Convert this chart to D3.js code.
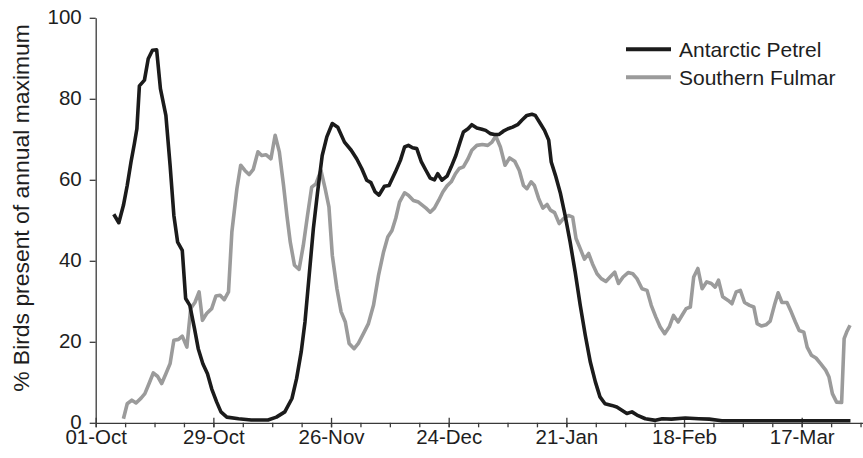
<!DOCTYPE html>
<html>
<head>
<meta charset="utf-8">
<script src="https://cdn.jsdelivr.net/npm/d3@7"></script>
<style>
  html, body { margin: 0; padding: 0; background: #fff; }
  svg { display: block; font-family: "Liberation Sans", Arial, sans-serif; }
</style>
</head>
<body>
<svg id="chart" width="863" height="458"></svg>
<script>
// Days counted from 01-Oct; values are % of birds present relative to the annual maximum.
const petrelDays = [4.3,5.5,6.6,7.5,8.4,9.2,9.8,10.4,11.6,12.5,13.5,14.5,15.4,16.7,17.7,18.6,19.5,20.6,21.4,22.4,23.5,24.4,25.5,26.6,27.6,28.8,29.8,31.2,34,37,41,43,45,46.7,47.8,48.9,49.8,50.8,51.8,52.8,53.9,55,56.3,57.6,59.2,60.8,62.1,63.3,64.5,65.5,66.5,67.4,68.7,69.8,71.3,72.5,73.5,74.4,75.4,76.4,77.5,78.6,79.6,80.6,81.4,82.4,83.6,84.6,85.7,86.7,87.5,88.6,89.5,90.7,91.9,92.8,93.9,94.9,96,97,98.1,99.2,100.4,101.4,102.6,103.8,104.6,105.8,106.8,107.8,108.4,109.4,110.6,111.7,112.9,114.1,115.3,116.5,117.7,118.9,120,121.2,122.8,124,125.2,126.4,127.6,128.8,130.8,133.2,134.8,137,140.3,143.5,146,149,179.6];
const petrelPct = [51.5,49.4,53.7,58.6,64.4,68.9,72.6,83.2,84.6,89.9,92.0,92.1,82.5,75.9,63.6,51.2,44.6,42.6,30.7,29.0,23.3,18.3,14.6,12.1,8.4,5.1,2.7,1.4,1.0,0.7,0.7,1.4,2.7,6,10.9,17.5,24.9,36.4,48,57,66,70.6,73.9,73,69.3,67.3,65.2,62.8,59.9,59.3,57,56.2,58.4,58.6,61.9,64.8,68.1,68.5,67.9,67.7,64.4,62.3,60.4,60,61.5,59.9,60.9,63.2,66,69.3,71.8,72.6,73.6,72.8,72.5,72.2,71.4,71.2,71.2,72,72.6,73,73.6,74.7,75.9,76.2,75.9,73.9,72.2,69.8,64.4,61.1,56.6,51.2,44.6,37.2,29,21.6,15,10.1,6.4,4.7,4.3,3.9,3.1,2.3,2.7,1.9,1.0,0.6,1.0,0.9,1.2,1.0,0.9,0.5,0.5];

const fulmarDays = [6.6,7.5,8.6,9.6,10.8,11.7,12.7,13.7,14.7,15.7,16.7,17.7,18.6,19.7,20.6,21.7,22.6,23.6,24.6,25.4,26.4,27.6,28.6,29.6,30.6,31.6,32.4,33.6,34.5,35.5,36.5,37.5,38.6,39.5,40.5,41.7,42.7,43.7,44.7,45.5,46.3,47.3,48.4,49.4,50.4,51.4,52.4,53.6,54.6,55.5,56.3,57.4,58.4,59.4,60.3,61.5,62.5,63.7,64.9,66.1,67.3,68.5,69.5,70.5,71.4,72.3,73.5,74.4,75.6,76.8,78.6,79.6,80.6,81.6,82.6,83.6,84.6,85.6,86.5,87.5,88.6,89.5,90.7,92,93.3,94.3,95.2,96.3,97.4,98.5,99.7,100.8,101.8,102.6,103.6,104.4,105.4,106.4,107.4,108.2,109.2,110.3,111.3,112.5,113.5,114.3,115.3,116.3,117.3,118.2,119.3,120.3,121.4,122.4,123.5,124.4,125.5,126.7,127.8,128.8,130,131.2,132.2,133.3,134.3,135.4,136.5,137.5,138.6,139.5,140.5,141.5,142.3,143.3,144.3,145.4,146.5,147.4,148.2,149.2,150.5,151.4,152.4,153.4,154.4,155.6,156.6,157.4,158.4,159.5,160.5,161.5,162.4,163.3,164.5,165.5,166.5,167.4,168.5,169.3,170.3,171.4,172.5,173.7,174.5,175.3,176.3,177.5,178.1,178.7,179.5];
const fulmarPct = [1,4.7,5.6,4.9,6.1,7.2,9.7,12.3,11.5,9.7,12.1,14.6,20.4,20.6,21.4,18.7,28.2,29.7,32.3,25.3,27,28.2,31.3,31.5,30.4,32.3,47.1,57.8,63.6,62.3,61.3,62.6,66.9,66,66.2,65.2,71,66.9,58.6,51.2,44.6,38.9,37.9,43.8,51.2,58.2,59,62.3,57.8,53.3,41.4,33.1,27.4,24.9,19.6,18.3,19.6,22,24.5,29,36.4,42.2,45.9,47.5,50.5,54.5,56.8,56.2,54.9,54.5,53,52,53,54.9,57,58.5,59.5,61.5,62.8,63.2,65.2,67.3,68.5,68.7,68.5,69.3,70.8,68.1,63.6,65.4,64.6,62.3,58.6,57.8,59.5,58.6,55.4,53,53.9,52.5,51.9,49.2,50.4,51.2,50.8,45.5,43,40.4,41.8,39.3,36.8,35.6,34.9,36,37.2,34.4,36,37.1,36.8,35.6,33.1,32.7,29,26.1,23.7,22,23.7,26.5,24.9,26.5,28.2,28.6,36,38.1,33.1,34.8,34.4,33.5,35.2,31.1,30.2,29.4,32.3,32.7,29.7,29,28.6,24.5,23.9,24.2,25.1,29,32.1,29.7,29.7,27.4,24.9,22.8,22.4,18.7,16.7,16,14.6,13,11.3,7.2,5.1,5,20.8,22.4,24.1];

const majorTickDays = [0,28,56,84,112,140,168];
const majorTickLabels = ["01-Oct","29-Oct","26-Nov","24-Dec","21-Jan","18-Feb","17-Mar"];
const minorTickDays = d3.range(0, 183, 7);
const yTicks = [0,20,40,60,80,100];

const seriesNames = ["Antarctic Petrel", "Southern Fulmar"];
const seriesColors = ["#1b1b1b", "#9b9b9b"];

const svg = d3.select("#chart");
const fontSize = 20.5;
const axisColor = "#3a3a3a";
const textColor = "#1e1e1e";

const x = d3.scaleLinear().domain([0, 168]).range([95.7, 801.7]);
const y = d3.scaleLinear().domain([0, 100]).range([422.8, 17.8]);
const xEnd = x(183);

// y axis
const yAxis = svg.append("g").attr("transform", `translate(${x(0)},0)`)
  .call(d3.axisLeft(y).tickValues(yTicks).tickSize(6).tickSizeOuter(0).tickPadding(8));
yAxis.select(".domain").attr("stroke", axisColor).attr("stroke-width", 1.3);
yAxis.selectAll(".tick line").attr("stroke", axisColor).attr("stroke-width", 1.3);
yAxis.selectAll(".tick text").attr("font-size", fontSize).attr("fill", textColor)
  .attr("font-family", "Liberation Sans, Arial, sans-serif")
  .attr("dy", "0.3em");

// x axis: weekly minor ticks
const xMinor = svg.append("g").attr("transform", `translate(0,${y(0)})`)
  .call(d3.axisBottom(x).tickValues(minorTickDays).tickSize(4.5).tickSizeOuter(0).tickFormat(""));
xMinor.select(".domain").attr("d", `M${x(0)},0.5H${xEnd}`).attr("stroke", axisColor).attr("stroke-width", 1.3);
xMinor.selectAll(".tick line").attr("stroke", axisColor).attr("stroke-width", 1.3);

// x axis: labelled 4-week ticks crossing the axis line
const xMajor = svg.append("g").attr("transform", `translate(0,${y(0)})`)
  .call(d3.axisBottom(x).tickValues(majorTickDays).tickSize(4.5).tickSizeOuter(0)
    .tickFormat((d, i) => majorTickLabels[i]).tickPadding(2));
xMajor.select(".domain").remove();
xMajor.selectAll(".tick line").attr("y1", -5).attr("stroke", axisColor).attr("stroke-width", 1.3);
xMajor.selectAll(".tick text").attr("font-size", fontSize).attr("fill", textColor)
  .attr("font-family", "Liberation Sans, Arial, sans-serif");

// y axis title
svg.append("text")
  .attr("transform", `translate(29,208) rotate(-90)`)
  .attr("text-anchor", "middle")
  .attr("font-size", 22.9)
  .attr("fill", textColor)
  .text("% Birds present of annual maximum");

// series lines
const line = d3.line().x(d => x(d[0])).y(d => y(d[1]));
const series = [
  d3.zip(petrelDays, petrelPct),
  d3.zip(fulmarDays, fulmarPct)
];
// Fulmar drawn first so the petrel sits on top
[1, 0].forEach(i => {
  svg.append("path")
    .datum(series[i])
    .attr("d", line)
    .attr("fill", "none")
    .attr("stroke", seriesColors[i])
    .attr("stroke-width", 3.6)
    .attr("stroke-linejoin", "round")
    .attr("stroke-linecap", "butt");
});

// legend
const legend = svg.append("g").attr("transform", "translate(626,49.3)");
seriesNames.forEach((name, i) => {
  const g = legend.append("g").attr("transform", `translate(0,${i * 28})`);
  g.append("line").attr("x1", 0).attr("x2", 45).attr("y1", 0).attr("y2", 0)
    .attr("stroke", seriesColors[i]).attr("stroke-width", 4);
  g.append("text").attr("x", 53).attr("y", 7.5)
    .attr("font-size", 21).attr("fill", textColor).text(name);
});
</script>
</body>
</html>
